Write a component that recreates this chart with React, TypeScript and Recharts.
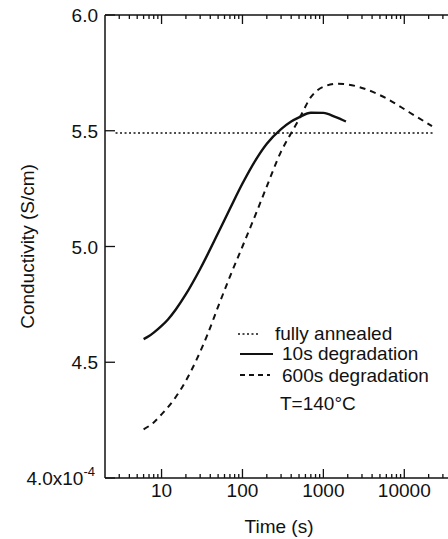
import { LineChart, Line, XAxis, YAxis } from "recharts";

// time (s) and conductivity (S/cm, x10^-4)
const time10s = [6, 7, 8, 10, 12, 15, 20, 30, 50, 70, 100, 150, 200, 300, 400, 500, 700, 1000, 1400, 1900];
const cond10s = [4.6, 4.613, 4.628, 4.657, 4.685, 4.728, 4.794, 4.903, 5.058, 5.163, 5.272, 5.381, 5.444, 5.507, 5.54, 5.558, 5.578, 5.577, 5.56, 5.54];

const time600s = [6, 8, 10, 15, 20, 27, 37, 50, 70, 100, 150, 200, 300, 400, 500, 700, 1000, 1500, 2000, 3000, 6000, 11500, 22000];
const cond600s = [4.21, 4.24, 4.275, 4.35, 4.42, 4.51, 4.62, 4.74, 4.87, 5.0, 5.15, 5.26, 5.41, 5.49, 5.55, 5.645, 5.69, 5.703, 5.7, 5.685, 5.64, 5.58, 5.52];

const timeAnnealed = [2.7, 23000];
const condAnnealed = [5.49, 5.49];

const decades = [10, 100, 1000, 10000];
const minorTicks = [
  3, 4, 5, 6, 7, 8, 9,
  20, 30, 40, 50, 60, 70, 80, 90,
  200, 300, 400, 500, 600, 700, 800, 900,
  2000, 3000, 4000, 5000, 6000, 7000, 8000, 9000,
  20000, 30000,
];
const xTicks = [...minorTicks, ...decades].sort((a, b) => a - b);
const yTicks = [4.0, 4.5, 5.0, 5.5, 6.0];

const toPoints = (ts: number[], vs: number[]) => ts.map((t, i) => ({ t, v: vs[i] }));

const FONT = "'Liberation Sans', Arial, Helvetica, sans-serif";
const INK = "#111";

const BottomTick = ({ x, y, payload }: any) => {
  const major = decades.includes(payload.value);
  return (
    <g>
      <line x1={x} x2={x} y1={y} y2={y - (major ? 9 : 4)} stroke={INK} strokeWidth={1.3} />
      {major && (
        <text x={x} y={y + 19} textAnchor="middle" fontSize={19} fontFamily={FONT} fill={INK}>
          {payload.value}
        </text>
      )}
    </g>
  );
};

const TopTick = ({ x, y, payload }: any) => {
  const major = decades.includes(payload.value);
  return <line x1={x} x2={x} y1={y} y2={y + (major ? 9 : 4)} stroke={INK} strokeWidth={1.3} />;
};

const LeftTick = ({ x, y, payload }: any) => {
  const v = payload.value;
  return (
    <g>
      <line x1={x} x2={x + 10} y1={y} y2={y} stroke={INK} strokeWidth={1.3} />
      {v === 4.0 ? (
        <text x={x - 10} y={y + 7} textAnchor="end" fontSize={19} fontFamily={FONT} fill={INK}>
          4.0x10
          <tspan fontSize={13} dy={-9}>-4</tspan>
        </text>
      ) : (
        <text x={x - 7} y={y + 7} textAnchor="end" fontSize={19} fontFamily={FONT} fill={INK}>
          {v.toFixed(1)}
        </text>
      )}
    </g>
  );
};

const RightTick = ({ x, y }: any) => (
  <line x1={x} x2={x - 9} y1={y} y2={y} stroke={INK} strokeWidth={1.3} />
);

export default function App() {
  return (
    <div style={{ position: "fixed", left: 0, top: 0, width: 448, height: 539, overflow: "hidden", background: "#fff" }}>
      <LineChart
        width={454}
        height={539}
        margin={{ top: 0, right: 0, bottom: 0, left: 0 }}
        style={{ fontFamily: FONT }}
      >
        <XAxis
          dataKey="t"
          type="number"
          scale="log"
          domain={[2, 40000]}
          allowDataOverflow
          ticks={xTicks}
          interval={0}
          height={61}
          tickSize={0}
          tickMargin={0}
          tick={BottomTick}
          axisLine={{ stroke: INK, strokeWidth: 1.5 }}
        />
        <XAxis
          xAxisId="top"
          orientation="top"
          dataKey="t"
          type="number"
          scale="log"
          domain={[2, 40000]}
          allowDataOverflow
          ticks={xTicks}
          interval={0}
          height={15}
          tickSize={0}
          tickMargin={0}
          tick={TopTick}
          axisLine={{ stroke: INK, strokeWidth: 1.5 }}
        />
        <YAxis
          type="number"
          domain={[4, 6]}
          ticks={yTicks}
          interval={0}
          width={105}
          tickSize={0}
          tickMargin={0}
          tick={LeftTick}
          axisLine={{ stroke: INK, strokeWidth: 1.5 }}
          label={{
            value: "Conductivity (S/cm)",
            angle: -90,
            position: "insideLeft",
            offset: 27,
            fontSize: 19,
            fill: INK,
            fontFamily: FONT,
            style: { textAnchor: "middle" },
          }}
        />
        <YAxis
          yAxisId="right"
          orientation="right"
          type="number"
          domain={[4, 6]}
          ticks={yTicks}
          interval={0}
          width={1}
          tickSize={0}
          tickMargin={0}
          tick={RightTick}
          axisLine={{ stroke: INK, strokeWidth: 1.5 }}
        />
        <Line
          data={toPoints(timeAnnealed, condAnnealed)}
          dataKey="v"
          type="linear"
          stroke={INK}
          strokeWidth={1.4}
          strokeDasharray="2 2.5"
          dot={false}
          isAnimationActive={false}
        />
        <Line
          data={toPoints(time600s, cond600s)}
          dataKey="v"
          type="monotone"
          stroke={INK}
          strokeWidth={2}
          strokeDasharray="6 5"
          dot={false}
          isAnimationActive={false}
        />
        <Line
          data={toPoints(time10s, cond10s)}
          dataKey="v"
          type="monotone"
          stroke={INK}
          strokeWidth={2.4}
          dot={false}
          isAnimationActive={false}
        />
      </LineChart>
      <svg
        width={448}
        height={539}
        style={{ position: "absolute", left: 0, top: 0, pointerEvents: "none" }}
        fontFamily={FONT}
        fontSize={19}
        fill={INK}
      >
        <text x={279} y={533} textAnchor="middle">Time (s)</text>
        <line x1={238} x2={260} y1={334} y2={334} stroke={INK} strokeWidth={1.3} strokeDasharray="2 2.5" />
        <text x={275} y={340}>fully annealed</text>
        <line x1={240} x2={273} y1={354} y2={354} stroke={INK} strokeWidth={2} />
        <text x={282} y={360}>10s degradation</text>
        <line x1={240} x2={270} y1={375} y2={375} stroke={INK} strokeWidth={1.8} strokeDasharray="5 4" />
        <text x={282} y={382}>600s degradation</text>
        <text x={280} y={410}>T=140°C</text>
      </svg>
    </div>
  );
}
